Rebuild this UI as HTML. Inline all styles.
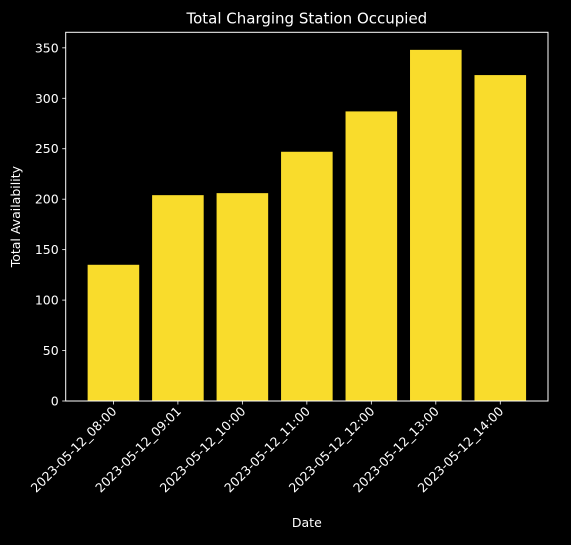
<!DOCTYPE html>
<html><head><meta charset="utf-8"><style>
html,body{margin:0;padding:0;background:#000;overflow:hidden;}
svg text{font-family:"DejaVu Sans","Liberation Sans",sans-serif;fill:#fff;}
</style></head><body>
<svg id="chart" width="571" height="540" viewBox="0 0 571 540">
<rect width="571" height="540" fill="#000"/>
</svg>
<script>
const categories=["2023-05-12_08:00","2023-05-12_09:01","2023-05-12_10:00","2023-05-12_11:00","2023-05-12_12:00","2023-05-12_13:00","2023-05-12_14:00"];
const values=[135,204,206,247,287,348,323];
const yTicks=[0,50,100,150,200,250,300,350];
const svg=document.getElementById('chart');
const NS='http://www.w3.org/2000/svg';
const L=65.7,R=548,T=32.3,B=401;
const ymax=Math.max(...values)*1.05;
const n=categories.length;
const xmin=-0.4-0.05*(n-0.2),xmax=n-1+0.4+0.05*(n-0.2);
const x=v=>L+(v-xmin)/(xmax-xmin)*(R-L);
const y=v=>B-v/ymax*(B-T);
function mk(t,a){const e=document.createElementNS(NS,t);for(const k in a)e.setAttribute(k,a[k]);svg.appendChild(e);return e;}
values.forEach((v,i)=>{
 const r=mk('rect',{x:x(i-0.4),y:y(v),width:x(i+0.4)-x(i-0.4),height:B-y(v),fill:'#f9dc2c'});
 
 
});
const frame=mk('rect',{x:L,y:T,width:R-L,height:B-T,fill:'none',stroke:'#fff','stroke-width':1});


yTicks.forEach(t=>{
 const yy=y(t);
 mk('line',{x1:L-3.5,x2:L,y1:yy,y2:yy,stroke:'#fff','stroke-width':0.8});
 const tx=mk('text',{x:L-7,y:yy+4.5,'text-anchor':'end','font-size':12.5});
 tx.textContent=t;
 
 
});
categories.forEach((c,i)=>{
 const xx=x(i);
 mk('line',{x1:xx,x2:xx,y1:B,y2:B+3.5,stroke:'#fff','stroke-width':0.8});
 const tx=mk('text',{x:xx+4,y:B+11,'text-anchor':'end','font-size':12.5,transform:`rotate(-45 ${xx+4} ${B+11})`});
 tx.textContent=c;
 
 
});
const title=mk('text',{x:(L+R)/2,y:T-9,'text-anchor':'middle','font-size':15});
title.textContent='Total Charging Station Occupied';


const xl=mk('text',{x:(L+R)/2,y:527,'text-anchor':'middle','font-size':12.5});
xl.textContent='Date';


const yl=mk('text',{x:20,y:(T+B)/2,'text-anchor':'middle','font-size':12.5,transform:`rotate(-90 20 ${(T+B)/2})`});
yl.textContent='Total Availability';


</script>
</body></html>
